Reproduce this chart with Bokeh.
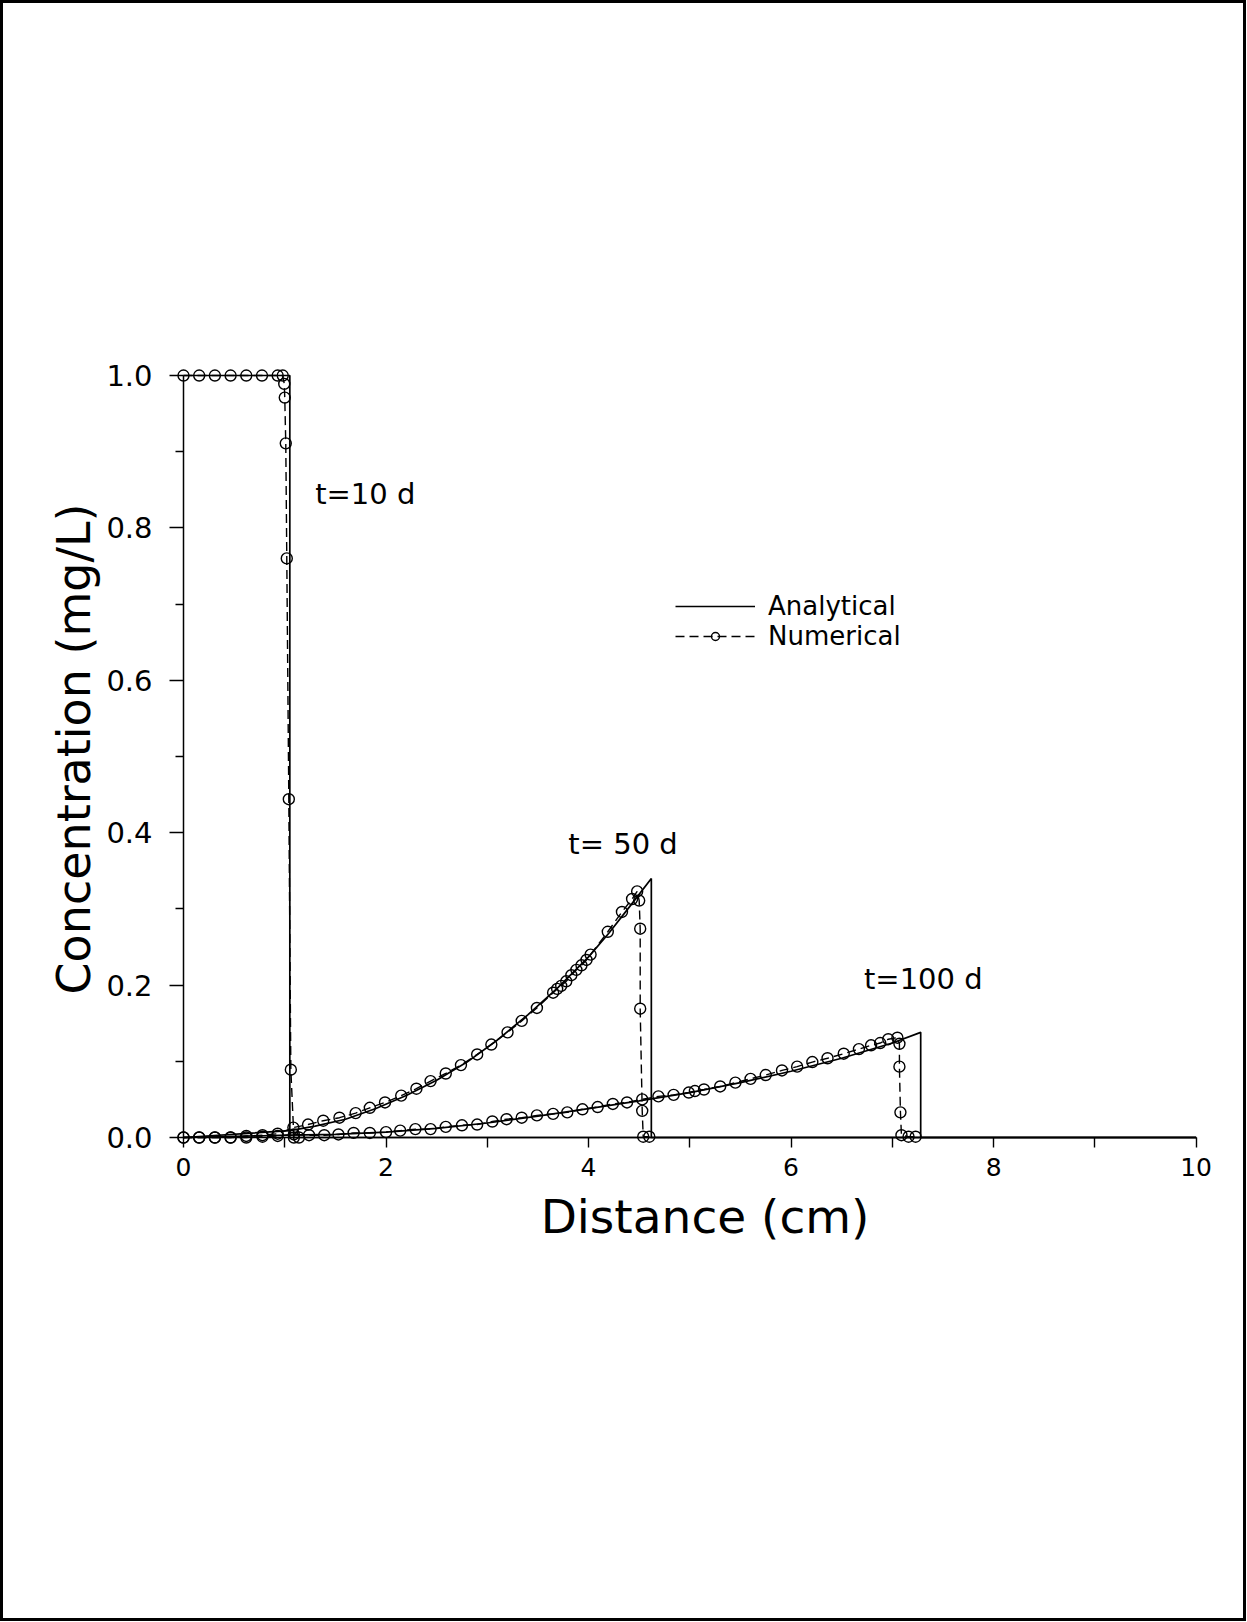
from bokeh.plotting import figure
from bokeh.models import Range1d, FixedTicker, PrintfTickFormatter, Legend, LegendItem
from bokeh.core.properties import value
from bokeh.embed import file_html
from bokeh.resources import INLINE

FONT = "DejaVu Sans"

# ---------------- data ----------------
# Analytical solutions
ana10_x = [0.0, 1.05, 1.05, 10.0]
ana10_y = [1.0, 1.0, 0.0, 0.0]

ana50_x = [0.0, 1.05, 1.3, 1.6, 1.9, 2.2, 2.5, 2.8, 3.1, 3.4, 3.7, 4.0, 4.2, 4.4, 4.62, 4.62, 10.0]
ana50_y = [0.0, 0.009, 0.015, 0.024, 0.038, 0.055, 0.075, 0.099, 0.128, 0.161, 0.197, 0.237, 0.268, 0.302, 0.340, 0.0, 0.0]

ana100_x = [0.0, 1.05, 1.5, 2.0, 2.5, 3.0, 3.5, 4.0, 4.5, 5.0, 5.5, 6.0, 6.5, 7.0, 7.28, 7.28, 10.0]
ana100_y = [0.0, 0.003, 0.004, 0.007, 0.012, 0.019, 0.028, 0.038, 0.048, 0.059, 0.072, 0.087, 0.104, 0.124, 0.138, 0.0, 0.0]

# Numerical solutions
num10_x = [0.0, 0.155, 0.31, 0.465, 0.62, 0.775, 0.93, 0.98, 0.995, 1.0, 1.01, 1.02, 1.04, 1.06, 1.09, 1.14]
num10_y = [1.0, 1.0, 1.0, 1.0, 1.0, 1.0, 1.0, 1.0, 0.989, 0.971, 0.911, 0.760, 0.444, 0.089, 0.0, 0.0]

num50_x = [0.0, 0.155, 0.31, 0.465, 0.62, 0.78, 0.93, 1.085, 1.23, 1.38, 1.54, 1.70, 1.84, 1.99,
           2.15, 2.30, 2.44, 2.59, 2.74, 2.90, 3.04, 3.20, 3.34, 3.49, 3.65, 3.69, 3.73, 3.78,
           3.83, 3.88, 3.93, 3.98, 4.02, 4.19, 4.33, 4.43, 4.48, 4.50, 4.51, 4.51, 4.53, 4.54, 4.60]
num50_y = [0.0, 0.0, 0.0, 0.0, 0.002, 0.003, 0.005, 0.013, 0.017, 0.022, 0.026, 0.032, 0.039, 0.046,
           0.055, 0.064, 0.074, 0.084, 0.095, 0.109, 0.122, 0.138, 0.153, 0.170, 0.190, 0.195, 0.199, 0.205,
           0.213, 0.220, 0.226, 0.233, 0.240, 0.270, 0.296, 0.313, 0.323, 0.311, 0.274, 0.169, 0.035, 0.001, 0.001]

num100_x = [0.0, 0.155, 0.31, 0.465, 0.62, 0.78, 0.93, 1.09, 1.24, 1.39, 1.53, 1.68, 1.84, 2.0,
            2.14, 2.29, 2.44, 2.59, 2.75, 2.90, 3.05, 3.19, 3.34, 3.49, 3.65, 3.79, 3.94, 4.09,
            4.24, 4.38, 4.53, 4.69, 4.84, 4.99, 5.05, 5.14, 5.30, 5.45, 5.60, 5.75, 5.91, 6.06,
            6.21, 6.36, 6.52, 6.67, 6.79, 6.88, 6.96, 7.05, 7.07, 7.07, 7.08, 7.09, 7.16, 7.23]
num100_y = [0.0, 0.0, 0.0, 0.0, 0.0, 0.001, 0.002, 0.004, 0.003, 0.003, 0.004, 0.006, 0.006, 0.007,
            0.009, 0.011, 0.011, 0.014, 0.016, 0.017, 0.021, 0.024, 0.026, 0.029, 0.031, 0.033, 0.037, 0.040,
            0.044, 0.046, 0.050, 0.054, 0.056, 0.059, 0.061, 0.063, 0.067, 0.072, 0.077, 0.082, 0.088, 0.093,
            0.099, 0.104, 0.110, 0.116, 0.121, 0.124, 0.129, 0.131, 0.123, 0.093, 0.033, 0.003, 0.001, 0.001]

# curve labels
label_text = ["t=10 d", "t= 50 d", "t=100 d"]
label_x = [1.30, 3.80, 6.72]
label_y = [0.844, 0.385, 0.208]

x_major_ticks = [0, 2, 4, 6, 8, 10]
x_minor_ticks = [1, 3, 5, 7, 9]
y_major_ticks = [0.0, 0.2, 0.4, 0.6, 0.8, 1.0]
y_minor_ticks = [0.1, 0.3, 0.5, 0.7, 0.9]

# ---------------- figure ----------------
p = figure(
    width=1240, height=1615,
    frame_width=1043, frame_height=777,
    min_border_left=180, min_border_right=17,
    min_border_top=357, min_border_bottom=481,
    x_range=Range1d(0.0, 10.3), y_range=Range1d(0.0, 1.0197),
    output_backend="svg", toolbar_location=None,
)
p.styles = {"border": "3px solid black"}
p.background_fill_color = "white"
p.border_fill_color = "white"
p.outline_line_color = None
p.grid.visible = False

# axes
p.xaxis.bounds = (0, 10)
p.yaxis.bounds = (0, 1)
p.xaxis.ticker = FixedTicker(ticks=x_major_ticks, minor_ticks=x_minor_ticks)
p.yaxis.ticker = FixedTicker(ticks=y_major_ticks, minor_ticks=y_minor_ticks)
p.yaxis.formatter = PrintfTickFormatter(format="%.1f")

for ax in (p.xaxis, p.yaxis):
    ax.axis_line_color = "black"
    ax.axis_line_width = 1.5
    ax.major_tick_line_color = "black"
    ax.minor_tick_line_color = "black"
    ax.major_tick_line_width = 1.4
    ax.minor_tick_line_width = 1.4
    ax.major_tick_in = 0
    ax.minor_tick_in = 0
    ax.major_label_text_font = FONT
    ax.major_label_text_color = "black"
    ax.axis_label_text_font = FONT
    ax.axis_label_text_font_style = "normal"
    ax.axis_label_text_color = "black"

p.xaxis.major_tick_out = 10
p.xaxis.minor_tick_out = 10
p.xaxis.major_label_standoff = 10
p.xaxis.major_label_text_font_size = "25px"
p.xaxis.axis_label = "Distance (cm)"
p.xaxis.axis_label_standoff = 10
p.xaxis.axis_label_text_font_size = "47px"

p.yaxis.major_tick_out = 14
p.yaxis.minor_tick_out = 8
p.yaxis.major_label_standoff = 17
p.yaxis.major_label_text_font_size = "29px"
p.yaxis.axis_label = "Concentration (mg/L)"
p.yaxis.axis_label_standoff = 2
p.yaxis.axis_label_text_font_size = "46px"

# analytical curves (overlay level so the marks on the axes are not clipped)
ana_style = dict(line_color="black", line_width=1.7, level="overlay")
r_a10 = p.line(ana10_x, ana10_y, **ana_style)
p.line(ana50_x, ana50_y, **ana_style)
p.line(ana100_x, ana100_y, **ana_style)

# numerical curves
num_line = dict(line_color="black", line_width=1.4, line_dash="9 5", level="overlay")
num_mark = dict(marker="circle", size=11, line_color="black", line_width=1.4, fill_alpha=0, level="overlay")
r_n10l = p.line(num10_x, num10_y, **num_line)
r_n10s = p.scatter(num10_x, num10_y, **num_mark)
p.line(num50_x, num50_y, **num_line)
p.scatter(num50_x, num50_y, **num_mark)
p.line(num100_x, num100_y, **num_line)
p.scatter(num100_x, num100_y, **num_mark)

# curve labels
p.text(x=label_x, y=label_y, text=label_text, text_font=value(FONT),
       text_font_size="29px", text_baseline="middle", text_align="left", text_color="black")

# legend
legend = Legend(items=[
    LegendItem(label="Analytical", renderers=[r_a10]),
    LegendItem(label="Numerical", renderers=[r_n10l, r_n10s]),
])
legend.location = (492, 486)
legend.margin = 0
legend.padding = 0
legend.spacing = 0
legend.glyph_width = 80
legend.glyph_height = 20
legend.label_standoff = 13
legend.label_text_font = FONT
legend.label_text_font_size = "26px"
legend.label_text_color = "black"
legend.border_line_alpha = 0
legend.background_fill_alpha = 0
p.add_layout(legend)

open("out.html", "w").write(file_html(p, INLINE))
